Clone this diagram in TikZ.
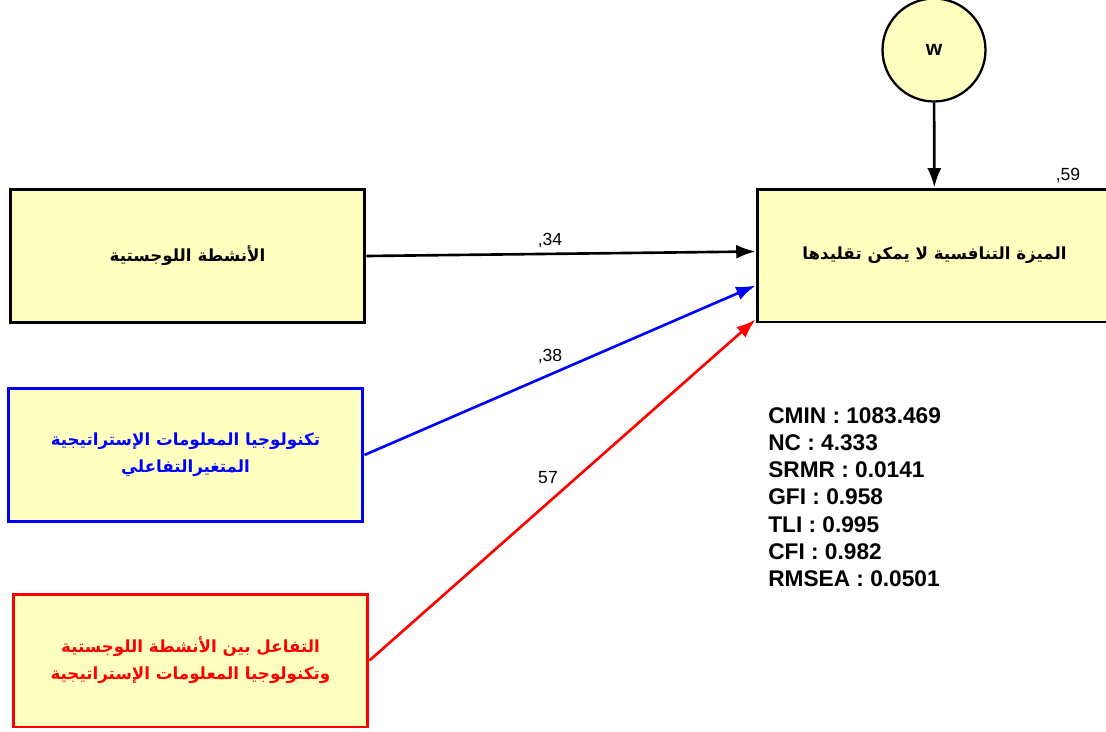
\documentclass[tikz,border=0pt]{standalone}
\usepackage{fontspec}
\setmainfont{Liberation Sans}
\newfontfamily\arabicfont[Script=Arabic]{DejaVu Sans}
\TeXXeTstate=1
\usetikzlibrary{arrows,arrows.meta,calc}
\definecolor{boxfill}{RGB}{255,255,192}

\begin{document}
\begin{tikzpicture}[x=0.02cm,y=-0.02cm]
\tikzstyle{var}=[rectangle,draw,fill=boxfill,line width=1.7pt,minimum width=7.1cm,minimum height=2.66cm,align=center,font=\arabicfont\bfseries\fontsize{9.5}{15.5}\selectfont]
\tikzstyle{reg}=[->,line width=1.5pt,>={Latex[length=11pt,width=8pt]}]
\tikzstyle{coef}=[font=\fontsize{10}{11}\selectfont,inner sep=0pt]
\path[use as bounding box,clip] (0,0) rectangle (1106,731);

\node (1) at (187.5,256) [var]{\beginR الأنشطة اللوجستية\endR};
\node (2) at (185.5,455) [var,draw=blue,text=blue]{\beginR تكنولوجيا المعلومات الإستراتيجية\endR\\\beginR المتغيرالتفاعلي\endR};
\node (3) at (190.5,660.5) [var,draw=red,text=red]{\beginR التفاعل بين الأنشطة اللوجستية\endR\\\beginR وتكنولوجيا المعلومات الإستراتيجية\endR};

\node (4) at (934,50) [circle,draw,fill=boxfill,line width=1.3pt,minimum size=2.06cm,font=\bfseries\fontsize{12}{14}\selectfont]{w};
\node (5) at (934.5,255.5) [var]{\beginR الميزة التنافسية لا يمكن تقليدها\endR};

\node (6) at (550,240) [coef]{,34};
\node (7) at (550,356) [coef]{,38};
\node (8) at (548,478) [coef]{57};
\node (9) at (1068,175) [coef]{,59};

\node (10) at (768,407) [anchor=north west,align=left,inner sep=0pt,font=\bfseries\fontsize{12.9}{15.5}\selectfont]{CMIN : 1083.469\\NC : 4.333\\SRMR : 0.0141\\GFI : 0.958\\TLI : 0.995\\CFI : 0.982\\RMSEA : 0.0501};

\draw[reg] (4) -- (5);
\draw[reg] (1.east) -- ($(5.west)+(0,-4)$);
\draw[reg,blue] (2.east) -- ($(5.west)+(0,30)$);
\draw[reg,red] (3.east) -- ($(5.west)+(0,64)$);
\end{tikzpicture}
\end{document}
